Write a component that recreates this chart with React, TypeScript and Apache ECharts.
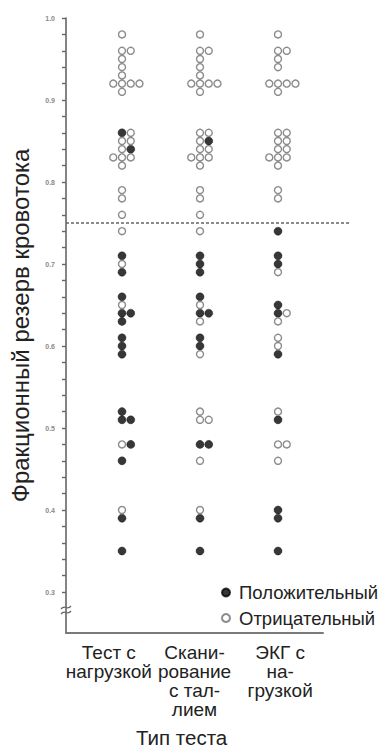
import React, { useEffect, useRef } from "react";
import * as echarts from "echarts";

type Outcome = "+" | "-";

// Column labels (test type)
const CATEGORIES = ["Тест с\nнагрузкой", "Скани-\nрование\nс тал-\nлием", "ЭКГ с\nна-\nгрузкой"];
const SERIES_NAMES = ["Положительный", "Отрицательный"];
const Y_LABELS = [0.3, 0.4, 0.5, 0.6, 0.7, 0.8, 0.9, 1.0];
const CUTOFF = 0.75;

// Each entry: [fractional flow reserve, test outcome]; order within equal values sets left/right placement
const stressTest: [number, Outcome][] = [
  [0.98, "-"], [0.96, "-"], [0.96, "-"], [0.95, "-"], [0.94, "-"], [0.93, "-"],
  [0.92, "-"], [0.92, "-"], [0.92, "-"], [0.92, "-"], [0.91, "-"],
  [0.86, "+"], [0.86, "-"], [0.85, "-"], [0.85, "-"], [0.84, "-"], [0.84, "+"],
  [0.83, "-"], [0.83, "-"], [0.83, "-"], [0.82, "-"],
  [0.79, "-"], [0.78, "-"], [0.76, "-"], [0.74, "-"],
  [0.71, "+"], [0.70, "-"], [0.69, "+"],
  [0.66, "+"], [0.65, "-"], [0.64, "+"], [0.64, "+"], [0.63, "+"],
  [0.61, "+"], [0.60, "+"], [0.59, "+"],
  [0.52, "+"], [0.51, "+"], [0.51, "+"], [0.48, "-"], [0.48, "+"], [0.46, "+"],
  [0.40, "-"], [0.39, "+"], [0.35, "+"],
];

const thalliumScan: [number, Outcome][] = [
  [0.98, "-"], [0.96, "-"], [0.96, "-"], [0.95, "-"], [0.94, "-"], [0.93, "-"],
  [0.92, "-"], [0.92, "-"], [0.92, "-"], [0.92, "-"], [0.91, "-"],
  [0.86, "-"], [0.86, "-"], [0.85, "-"], [0.85, "+"], [0.84, "-"], [0.84, "-"],
  [0.83, "-"], [0.83, "-"], [0.83, "-"], [0.82, "-"],
  [0.79, "-"], [0.78, "-"], [0.76, "-"], [0.74, "-"],
  [0.71, "+"], [0.70, "+"], [0.69, "+"],
  [0.66, "+"], [0.65, "-"], [0.64, "+"], [0.64, "+"], [0.63, "-"],
  [0.61, "+"], [0.60, "+"], [0.59, "-"],
  [0.52, "-"], [0.51, "-"], [0.51, "-"], [0.48, "+"], [0.48, "+"], [0.46, "-"],
  [0.40, "-"], [0.39, "+"], [0.35, "+"],
];

const stressEcg: [number, Outcome][] = [
  [0.98, "-"], [0.96, "-"], [0.96, "-"], [0.95, "-"], [0.94, "-"],
  [0.92, "-"], [0.92, "-"], [0.92, "-"], [0.92, "-"], [0.91, "-"],
  [0.86, "-"], [0.86, "-"], [0.85, "-"], [0.85, "-"], [0.84, "-"], [0.84, "-"],
  [0.83, "-"], [0.83, "-"], [0.83, "-"], [0.82, "-"],
  [0.79, "-"], [0.78, "-"], [0.74, "+"],
  [0.71, "+"], [0.70, "+"], [0.69, "-"],
  [0.65, "+"], [0.64, "+"], [0.64, "-"], [0.63, "-"],
  [0.61, "-"], [0.60, "-"], [0.59, "+"],
  [0.52, "-"], [0.51, "+"], [0.48, "-"], [0.48, "-"], [0.46, "-"],
  [0.40, "+"], [0.39, "+"], [0.35, "+"],
];

const COLUMNS = [stressTest, thalliumScan, stressEcg];

const FONT = "'Liberation Sans', Arial, Helvetica, sans-serif";
const X_MIN = -0.718;
const X_MAX = 2.923;
const SLOT_W = 0.112;
const SLOT_ORDER = [0, 1, -1, 2, -2, 3];

function buildPoints() {
  const pos: number[][] = [];
  const neg: number[][] = [];
  COLUMNS.forEach((col, ci) => {
    const counts: Record<string, number> = {};
    col.forEach(([v, o]) => {
      const key = v.toFixed(3);
      const n = counts[key] || 0;
      counts[key] = n + 1;
      const x = ci + SLOT_ORDER[n] * SLOT_W;
      (o === "+" ? pos : neg).push([x, v]);
    });
  });
  return { pos, neg };
}

const tickValues: number[] = [];
for (let k = 0; k <= 35; k++) tickValues.push(Math.round((0.3 + k * 0.02) * 100) / 100);

export default function App() {
  const ref = useRef<HTMLDivElement>(null);
  useEffect(() => {
    if (!ref.current) return;
    const chart = echarts.init(ref.current, null, { renderer: "svg" });
    const { pos, neg } = buildPoints();
    chart.setOption({
      animation: false,
      backgroundColor: "#ffffff",
      textStyle: { fontFamily: FONT },
      grid: [
        { left: 66, top: 18, width: 284, height: 615 },
        { left: 66, top: 18, width: 257, height: 615 },
      ],
      xAxis: [
        { gridIndex: 0, type: "value", min: X_MIN, max: X_MAX, show: false },
        {
          gridIndex: 1,
          type: "category",
          data: CATEGORIES,
          axisLine: { show: true, lineStyle: { color: "#7a7a7a", width: 2 } },
          axisTick: { show: false },
          axisLabel: { fontSize: 19, lineHeight: 19, color: "#222", margin: 10, fontFamily: FONT, interval: 0 },
        },
      ],
      yAxis: [
        {
          gridIndex: 0,
          type: "value",
          min: 0.25,
          max: 1.0,
          name: "Фракционный резерв кровотока",
          nameLocation: "middle",
          nameGap: 34,
          nameTextStyle: { fontSize: 24, color: "#222", fontFamily: FONT },
          axisLine: { show: true, onZero: false, lineStyle: { color: "#666", width: 1.6 } },
          axisTick: { show: true, length: 4, customValues: tickValues, lineStyle: { color: "#666", width: 1.4 } },
          axisLabel: {
            customValues: Y_LABELS,
            formatter: (v: number) => v.toFixed(1),
            fontSize: 7,
            fontWeight: "bold",
            color: "#8a8a8a",
            margin: 11,
          },
          splitLine: { show: false },
        },
        { gridIndex: 1, type: "value", show: false },
      ],
      legend: {
        orient: "vertical",
        left: 216,
        top: 578,
        itemWidth: 16,
        itemHeight: 8,
        itemGap: 6.5,
        textStyle: { fontSize: 18.5, color: "#222", fontFamily: FONT },
        data: SERIES_NAMES,
      },
      series: [
        {
          name: SERIES_NAMES[0],
          type: "scatter",
          xAxisIndex: 0,
          yAxisIndex: 0,
          symbol: "circle",
          symbolSize: 8,
          itemStyle: { color: "#050505", borderColor: "#050505", borderWidth: 0.5 },
          data: pos,
        },
        {
          name: SERIES_NAMES[1],
          type: "scatter",
          xAxisIndex: 0,
          yAxisIndex: 0,
          symbol: "circle",
          symbolSize: 7,
          itemStyle: { color: "#fff", borderColor: "#6e6e6e", borderWidth: 1.4 },
          data: neg,
          markLine: {
            silent: true,
            symbol: "none",
            label: { show: false },
            lineStyle: { type: [3, 2], color: "#666", width: 1.6 },
            data: [{ yAxis: CUTOFF }],
          },
        },
      ],
      graphic: [
        {
          type: "text",
          left: 184 - 48,
          top: 727,
          style: { text: "Тип теста", fontSize: 20.5, fill: "#222", fontFamily: FONT },
        },
        {
          type: "bezierCurve",
          shape: { x1: 61, y1: 609, x2: 71, y2: 606, cpx1: 65, cpy1: 604, cpx2: 67, cpy2: 611 },
          style: { stroke: "#666", lineWidth: 1.3, fill: null },
        },
        {
          type: "bezierCurve",
          shape: { x1: 61, y1: 614, x2: 71, y2: 611, cpx1: 65, cpy1: 609, cpx2: 67, cpy2: 616 },
          style: { stroke: "#666", lineWidth: 1.3, fill: null },
        },
      ],
    });
    return () => chart.dispose();
  }, []);
  return <div ref={ref} style={{ position: "absolute", left: 0, top: 0, width: 380, height: 749 }} />;
}
